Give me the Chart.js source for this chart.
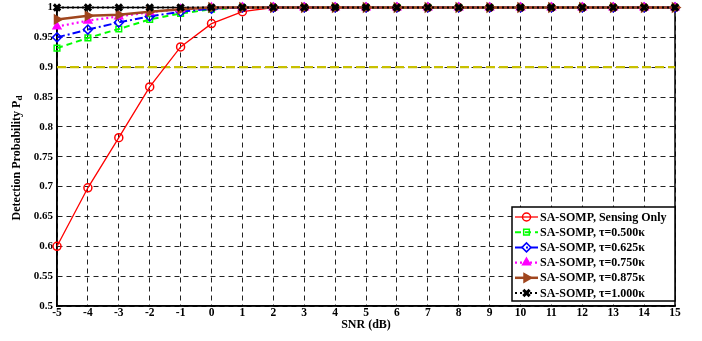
<!DOCTYPE html>
<html><head><meta charset="utf-8">
<script src="https://cdn.jsdelivr.net/npm/chart.js@4"></script>
<style>html,body{margin:0;padding:0;background:#fff;}#wrap{width:702px;height:341px;}</style>
</head><body><div id="wrap"><canvas id="c" width="702" height="341"></canvas></div>
<script>
const snr = [-5,-4,-3,-2,-1,0,1,2,3,4,5,6,7,8,9,10,11,12,13,14,15];
const sensingOnly = [0.600,0.698,0.782,0.867,0.934,0.973,0.993,1,1,1,1,1,1,1,1,1,1,1,1,1,1];
const tau0500 = [0.932,0.949,0.964,0.980,0.990,0.997,1,1,1,1,1,1,1,1,1,1,1,1,1,1,1];
const tau0625 = [0.950,0.963,0.975,0.985,0.993,0.998,1,1,1,1,1,1,1,1,1,1,1,1,1,1,1];
const tau0750 = [0.968,0.978,0.985,0.992,0.997,1,1,1,1,1,1,1,1,1,1,1,1,1,1,1,1];
const tau0875 = [0.980,0.986,0.988,0.993,0.997,1,1,1,1,1,1,1,1,1,1,1,1,1,1,1,1];
const tau1000 = [1,1,1,1,1,1,1,1,1,1,1,1,1,1,1,1,1,1,1,1,1];
const threshold = [0.9,0.9];
const seriesLabels = ['SA-SOMP, Sensing Only','SA-SOMP, \u03c4=0.500\u03ba','SA-SOMP, \u03c4=0.625\u03ba','SA-SOMP, \u03c4=0.750\u03ba','SA-SOMP, \u03c4=0.875\u03ba','SA-SOMP, \u03c4=1.000\u03ba'];
const yTicks = [0.5,0.55,0.6,0.65,0.7,0.75,0.8,0.85,0.9,0.95,1];

const FONT = 'Liberation Serif, Times New Roman, serif';
const pts = (arr) => arr.map((v,i)=>({x:snr[i], y:v}));
const styles = [
  {color:'#ff0000', dash:[], pointStyle:'circle', fill:'rgba(0,0,0,0)', r:4, lw:1.3, rot:0},
  {color:'#00ff00', dash:[6,4], pointStyle:'rect', fill:'rgba(0,0,0,0)', r:4, lw:2, rot:0},
  {color:'#0000ff', dash:[8,3,2,3], pointStyle:'rectRot', fill:'rgba(0,0,0,0)', r:4.5, lw:2, rot:0},
  {color:'#ff00ff', dash:[2,3], pointStyle:'triangle', fill:'#ff00ff', r:4.5, lw:2.2, rot:0},
  {color:'#a0461e', dash:[], pointStyle:'triangle', fill:'#a0461e', r:5, lw:2.5, rot:90},
  {color:'#000000', dash:[2,3], pointStyle:'crossRot', fill:'#000000', r:4.5, lw:2, rot:0}
];
const seriesData = [sensingOnly,tau0500,tau0625,tau0750,tau0875,tau1000];
const datasets = seriesData.map((d,i)=>({
  label: seriesLabels[i], data: pts(d), borderColor: styles[i].color, backgroundColor: styles[i].fill,
  borderDash: styles[i].dash, borderWidth: styles[i].lw, pointStyle: styles[i].pointStyle,
  pointRadius: styles[i].r, pointBorderWidth: i===5?3:1.5, pointRotation: styles[i].rot,
  pointBackgroundColor: styles[i].fill, pointBorderColor: styles[i].color,
  tension: 0, clip: false, order: 5 - i
}));
datasets.push({label:'threshold', data:[{x:-5,y:threshold[0]},{x:15,y:threshold[1]}], borderColor:'#c8c000', borderDash:[9,4], borderWidth:2.2, pointRadius:0, order:10});

const boxPlugin = {
  id:'box',
  beforeDatasetsDraw(chart){
    const {ctx, chartArea:a} = chart;
    ctx.save(); ctx.strokeStyle='#000'; ctx.lineWidth=1.5; ctx.setLineDash([]);
    ctx.strokeRect(a.left, a.top, a.right-a.left, a.bottom-a.top);
    ctx.restore();
  },
  afterDraw(chart){
    const {ctx, chartArea:a} = chart;
    ctx.save();
    ctx.fillStyle='#000'; ctx.font='bold 12px '+FONT;
    ctx.textAlign='center'; ctx.textBaseline='middle';
    ctx.fillText('SNR (dB)', (a.left+a.right)/2, 325);
    ctx.translate(17, 158); ctx.rotate(-Math.PI/2);
    const main='Detection Probability P';
    ctx.font='bold 12px '+FONT;
    const w1=ctx.measureText(main).width;
    ctx.font='bold 9px '+FONT;
    const w2=ctx.measureText('d').width;
    const start=-(w1+w2)/2;
    ctx.textAlign='left';
    ctx.font='bold 12px '+FONT; ctx.fillText(main,start,0);
    ctx.font='bold 9px '+FONT; ctx.fillText('d',start+w1,3);
    ctx.restore();
    // legend
    ctx.save();
    const lx=512, ly=207, lw=163, lh=94;
    ctx.fillStyle='#fff'; ctx.fillRect(lx,ly,lw,lh);
    ctx.strokeStyle='#000'; ctx.lineWidth=1.5; ctx.strokeRect(lx,ly,lw,lh);
    ctx.font='bold 12px '+FONT; ctx.textBaseline='middle'; ctx.textAlign='left';
    for(let i=0;i<6;i++){
      const y = ly+10+i*15.2;
      const ds = chart.data.datasets[i];
      ctx.save();
      ctx.strokeStyle=ds.borderColor; ctx.lineWidth=ds.borderWidth; ctx.setLineDash(ds.borderDash);
      ctx.beginPath(); ctx.moveTo(lx+3,y); ctx.lineTo(lx+26,y); ctx.stroke();
      ctx.setLineDash([]);
      ctx.lineWidth=ds.pointBorderWidth; ctx.strokeStyle=ds.pointBorderColor; ctx.fillStyle=ds.pointBackgroundColor;
      Chart.helpers.drawPoint(ctx,{pointStyle:ds.pointStyle, radius:ds.pointRadius, rotation:ds.pointRotation, borderWidth:ds.pointBorderWidth}, lx+14.5, y);
      ctx.restore();
      ctx.fillStyle='#000';
      ctx.fillText(ds.label, lx+28, y+0.5);
    }
    ctx.restore();
  }
};

new Chart(document.getElementById('c'), {
  type:'line',
  data:{datasets},
  options:{
    responsive:false, animation:false, devicePixelRatio:1,
    layout:{padding:{top:0,right:27,left:0,bottom:0}},
    plugins:{legend:{display:false}, tooltip:{enabled:false}},
    scales:{
      x:{type:'linear', min:-5, max:15,
        afterFit(s){ s.height=35; },
        ticks:{stepSize:1, color:'#000', padding:0, font:{family:FONT, weight:'bold', size:11.5}, maxRotation:0, autoSkip:false},
        grid:{color:'#222', lineWidth:1, drawTicks:false},
        border:{display:true, color:'#000', width:1.5, dash:[5,4]}
      },
      y:{type:'linear', min:0.5, max:1,
        afterFit(s){ s.width=57; s.paddingTop=-2; },
        afterBuildTicks(s){ s.ticks = yTicks.map(v=>({value:v})); },
        ticks:{color:'#000', padding:4, font:{family:FONT, weight:'bold', size:11}, callback:(v)=>String(+v.toFixed(2))},
        grid:{color:'#222', lineWidth:1, drawTicks:false},
        border:{display:true, color:'#000', width:1.5, dash:[5,4]}
      }
    }
  },
  plugins:[boxPlugin]
});
</script></body></html>
